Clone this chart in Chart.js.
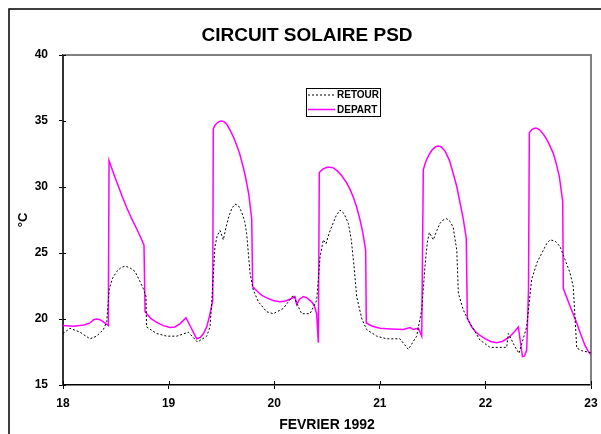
<!DOCTYPE html>
<html><head><meta charset="utf-8">
<script src="https://cdn.jsdelivr.net/npm/chart.js@4"></script>
<style>html,body{margin:0;padding:0;background:#fff;}#wrap{width:601px;height:434px;position:relative}</style>
</head><body><div id="wrap"><canvas id="c" width="601" height="434"></canvas></div>
<script>
const chartTitle = "CIRCUIT SOLAIRE PSD";
const xAxisTitle = "FEVRIER 1992";
const yAxisTitle = "°C";
const seriesNames = ["RETOUR", "DEPART"];
const xTicks = [18, 19, 20, 21, 22, 23];
const yTicks = [15, 20, 25, 30, 35, 40];

const departDays = [18.000,18.100,18.200,18.256,18.290,18.319,18.350,18.379,18.429,
  18.436,18.480,18.520,18.560,18.603,18.650,18.700,18.740,18.767,
  18.777,18.830,18.887,18.950,19.013,19.060,19.110,19.165,19.266,19.300,19.330,19.361,19.390,19.418,
  19.423,19.440,19.460,19.480,19.503,19.525,19.550,19.580,19.613,19.640,19.670,19.707,19.730,19.760,19.787,
  19.796,19.840,19.880,19.929,19.990,20.055,20.100,20.150,20.197,20.213,20.240,20.276,20.310,20.355,20.380,20.402,20.418,
  20.427,20.460,20.500,20.528,20.560,20.600,20.640,20.687,20.720,20.750,20.780,20.813,20.840,20.866,
  20.872,20.930,21.002,21.100,21.223,21.286,21.317,21.365,21.397,
  21.412,21.430,21.445,21.470,21.500,21.530,21.554,21.580,21.620,21.660,21.696,21.730,21.760,21.790,21.819,
  21.829,21.870,21.910,21.949,22.000,22.050,22.107,22.160,22.223,22.270,22.312,22.351,22.370,22.391,22.408,
  22.416,22.440,22.465,22.486,22.510,22.540,22.570,22.600,22.643,22.670,22.700,22.732,
  22.738,22.800,22.865,22.900,22.943,22.970,22.997];
const departTemps = [19.5,19.45,19.55,19.7,19.95,20.0,19.95,19.8,19.5,
  32.0,31.0,30.15,29.3,28.45,27.6,26.8,26.1,25.6,
  20.55,20.05,19.75,19.5,19.35,19.4,19.65,20.1,18.5,18.6,18.9,19.4,20.3,21.4,
  34.4,34.7,34.85,34.97,35.0,34.95,34.75,34.35,33.8,33.25,32.6,31.5,30.7,29.4,27.6,
  22.45,22.1,21.8,21.6,21.4,21.3,21.35,21.5,21.7,21.1,21.5,21.7,21.6,21.3,21.0,20.4,18.2,
  31.1,31.35,31.5,31.5,31.45,31.2,30.85,30.3,29.8,29.2,28.5,27.5,26.5,25.2,
  19.7,19.45,19.3,19.25,19.2,19.35,19.2,19.3,18.7,
  31.3,31.8,32.1,32.5,32.85,33.05,33.1,33.05,32.7,32.0,31.0,30.0,28.8,27.6,26.1,
  20.05,19.4,19.0,18.75,18.5,18.3,18.2,18.3,18.6,19.0,19.4,17.15,17.2,17.65,22.2,
  34.1,34.35,34.45,34.45,34.35,34.1,33.75,33.3,32.55,31.8,30.8,28.9,
  22.3,21.0,19.7,18.9,18.0,17.6,17.3];

const retourDays = [18.000,18.066,18.161,18.256,18.319,18.382,18.414,
  18.438,18.470,18.509,18.550,18.587,18.630,18.682,18.720,18.760,18.786,18.791,
  18.887,18.982,19.077,19.187,19.274,19.361,19.392,19.408,
  19.439,19.460,19.487,19.518,19.545,19.572,19.600,19.629,19.660,19.692,19.720,19.739,19.755,19.771,19.802,19.850,19.929,
  19.991,20.086,20.181,20.213,20.260,20.339,20.402,
  20.434,20.465,20.491,20.520,20.545,20.585,20.623,20.660,20.702,20.730,20.756,20.781,20.830,20.876,
  20.971,21.065,21.191,21.270,21.349,21.397,
  21.428,21.450,21.469,21.507,21.540,21.570,21.600,21.634,21.670,21.696,21.729,21.744,21.790,21.838,
  21.949,22.044,22.202,22.217,22.280,22.318,22.391,
  22.438,22.490,22.548,22.580,22.612,22.660,22.706,22.754,22.801,22.832,22.865,22.912,22.997];
const retourTemps = [18.9,19.3,19.0,18.5,18.7,19.2,19.8,
  22.3,23.1,23.6,23.9,24.0,23.9,23.6,23.0,22.3,21.7,19.4,
  18.9,18.7,18.7,19.0,18.25,18.7,19.4,21.2,
  25.5,26.3,26.7,26.0,27.0,27.8,28.4,28.7,28.6,28.1,27.4,26.5,25.0,23.5,22.2,21.3,20.55,
  20.4,20.8,21.8,21.2,20.4,20.4,21.4,
  24.7,26.0,25.7,26.5,27.0,27.8,28.25,28.0,27.25,26.0,24.0,21.7,20.0,19.2,
  18.7,18.5,18.5,17.7,18.7,20.7,
  24.0,25.8,26.55,26.0,26.7,27.25,27.5,27.6,27.35,26.9,25.2,21.95,20.7,19.9,
  18.4,17.85,17.85,18.9,17.9,17.4,19.4,
  23.0,24.3,25.2,25.7,26.0,25.9,25.5,24.5,23.5,22.45,17.8,17.6,17.45];

const FONT = '"Liberation Sans", Arial, sans-serif';

const decorPlugin = {
  id: 'decor',
  beforeDraw(chart) {
    const ctx = chart.ctx;
    ctx.save();
    ctx.fillStyle = '#fff';
    ctx.fillRect(0, 0, chart.width, chart.height);
    ctx.strokeStyle = '#000';
    ctx.lineWidth = 1.5;
    ctx.strokeRect(9, 9, 700, 700);
    ctx.restore();
  },
  beforeDatasetsDraw(chart) {
    const ctx = chart.ctx, a = chart.chartArea;
    ctx.save();
    ctx.strokeStyle = '#808080';
    ctx.lineWidth = 2;
    ctx.beginPath();
    ctx.moveTo(a.left, a.top);
    ctx.lineTo(a.right, a.top);
    ctx.lineTo(a.right, a.bottom);
    ctx.stroke();
    ctx.strokeStyle = '#000';
    ctx.lineWidth = 1;
    const xs = chart.scales.x, ys = chart.scales.y;
    xTicks.forEach(v => {
      const px = Math.round(xs.getPixelForValue(v)) + 0.5;
      ctx.beginPath(); ctx.moveTo(px, a.bottom); ctx.lineTo(px, a.bottom - 4); ctx.stroke();
    });
    yTicks.forEach(v => {
      const py = Math.round(ys.getPixelForValue(v)) + 0.5;
      ctx.beginPath(); ctx.moveTo(a.left, py); ctx.lineTo(a.left + 3, py); ctx.stroke();
    });
    ctx.restore();
  },
  afterDraw(chart) {
    const ctx = chart.ctx, a = chart.chartArea;
    ctx.save();
    ctx.fillStyle = '#000';
    ctx.textAlign = 'center';
    ctx.textBaseline = 'middle';
    ctx.font = 'bold 19px ' + FONT;
    ctx.fillText(chartTitle, 307, 36);
    ctx.font = 'bold 14px ' + FONT;
    ctx.fillText(xAxisTitle, (a.left + a.right) / 2, 425);
    ctx.save();
    ctx.translate(23, (a.top + a.bottom) / 2);
    ctx.rotate(-Math.PI / 2);
    ctx.font = 'bold 13px ' + FONT;
    ctx.fillText(yAxisTitle, 0, 0);
    ctx.restore();
    const lx = 306, ly = 88, lw = 74, lh = 28;
    ctx.fillStyle = '#fff';
    ctx.fillRect(lx, ly, lw, lh);
    ctx.strokeStyle = '#000';
    ctx.lineWidth = 1;
    ctx.strokeRect(lx + 0.5, ly + 0.5, lw, lh);
    const ds = chart.data.datasets;
    const rows = [95, 109.5];
    ds.forEach((d, i) => {
      ctx.save();
      ctx.strokeStyle = d.borderColor;
      ctx.lineWidth = d.borderWidth;
      ctx.setLineDash(d.borderDash || []);
      ctx.beginPath();
      ctx.moveTo(308, rows[i]);
      ctx.lineTo(335, rows[i]);
      ctx.stroke();
      ctx.restore();
      ctx.fillStyle = '#000';
      ctx.textAlign = 'left';
      ctx.font = 'bold 10px ' + FONT;
      ctx.fillText(d.label, 337, rows[i] + 0.5);
    });
    ctx.restore();
  }
};

const toPts = (xs, ys) => xs.map((x, i) => ({ x: x, y: ys[i] }));

new Chart(document.getElementById('c'), {
  type: 'line',
  data: {
    datasets: [
      { label: seriesNames[0], data: toPts(retourDays, retourTemps), borderColor: '#000', borderWidth: 1, borderDash: [2, 2], pointRadius: 0, fill: false, tension: 0 },
      { label: seriesNames[1], data: toPts(departDays, departTemps), borderColor: '#ff00ff', borderWidth: 1.5, pointRadius: 0, fill: false, tension: 0 }
    ]
  },
  options: {
    responsive: false,
    animation: false,
    devicePixelRatio: 1,
    layout: { padding: { left: 0, top: 55, right: 10, bottom: 0 } },
    plugins: { legend: { display: false }, title: { display: false }, tooltip: { enabled: false } },
    scales: {
      x: {
        type: 'linear', min: 18, max: 23,
        afterBuildTicks: s => { s.ticks = xTicks.map(v => ({ value: v })); },
        afterFit: s => { s.height = 49; s.paddingLeft = 0; s.paddingRight = 0; },
        grid: { display: true, drawOnChartArea: false, drawTicks: true, tickLength: 4, color: '#000', lineWidth: 1 },
        border: { display: true, color: '#000', width: 1.5 },
        ticks: { color: '#000', padding: 7, maxRotation: 0, font: { family: FONT, size: 12, weight: 'bold' } }
      },
      y: {
        type: 'linear', min: 15, max: 40,
        afterBuildTicks: s => { s.ticks = yTicks.map(v => ({ value: v })); },
        afterFit: s => { s.width = 63; s.paddingTop = 0; s.paddingBottom = 0; },
        grid: { display: true, drawOnChartArea: false, drawTicks: true, tickLength: 4, color: '#000', lineWidth: 1 },
        border: { display: true, color: '#333', width: 2 },
        ticks: { color: '#000', padding: 11, font: { family: FONT, size: 12, weight: 'bold' } }
      }
    }
  },
  plugins: [decorPlugin]
});
</script>
</body></html>
